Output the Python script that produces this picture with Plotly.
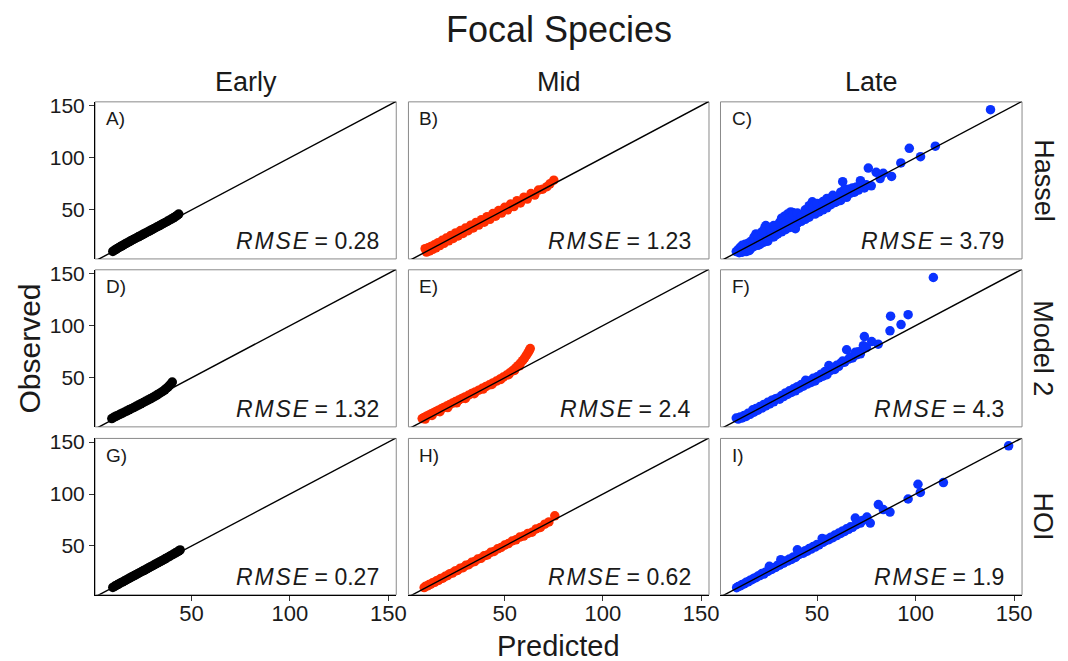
import plotly.graph_objects as go

# ---------------- data (predicted / observed) ----------------
columns = ["Early", "Mid", "Late"]
rows = ["Hassel", "Model 2", "HOI"]
panel_labels = ["A)", "B)", "C)", "D)", "E)", "F)", "G)", "H)", "I)"]
rmse_values = ["0.28", "1.23", "3.79", "1.32", "2.4", "4.3", "0.27", "0.62", "1.9"]
col_colors = ["#000000", "#FF2E00", "#0A32FF"]
tick_vals = [50, 100, 150]
identity_line = [0, 160]

a_pred = [10.0, 10.8, 11.5, 12.3, 13.0, 13.9, 14.6, 15.4, 16.2, 17.0, 17.9, 18.7, 19.5, 20.4, 21.2, 22.1, 23.0,
          23.8, 24.7, 25.6, 26.5, 27.4, 28.3, 29.2, 30.1, 31.0, 31.9, 32.9, 33.8, 34.8, 35.7, 36.7, 37.7, 38.7,
          39.7, 40.8, 41.8, 42.7, 43.5]
a_obs = [10.2, 11.3, 12.0, 13.0, 13.8, 14.8, 15.5, 16.4, 17.3, 18.1, 19.0, 19.9, 20.7, 21.6, 22.4, 23.3, 24.2,
         25.0, 25.9, 26.8, 27.7, 28.6, 29.5, 30.4, 31.3, 32.2, 33.1, 34.1, 35.0, 36.0, 37.0, 38.0, 39.0, 40.1,
         41.2, 42.4, 43.6, 44.8, 46.0]

b_pred = [9.5, 10.2, 11.0, 11.8, 12.5, 13.4, 14.2, 15.0, 16.1, 17.0, 18.2, 19.1, 20.3, 21.5, 22.6, 23.8, 25.0,
          26.3, 27.5, 28.8, 30.0, 31.4, 32.7, 34.0, 35.4, 36.8, 38.2, 39.6, 41.0, 42.5, 44.0, 45.4, 46.9, 48.4,
          50.0, 51.5, 53.0, 54.7, 56.3, 58.0, 59.8, 61.5, 63.4, 65.3, 67.2, 69.3, 71.5, 73.0, 75.0]
b_obs = [12.8, 9.6, 13.6, 10.6, 15.0, 12.2, 16.5, 13.6, 18.6, 15.8, 20.9, 17.9, 23.0, 20.4, 25.5, 22.6, 27.9,
         25.0, 30.2, 27.4, 32.6, 30.0, 35.3, 32.7, 38.0, 35.4, 40.6, 38.2, 43.5, 41.0, 46.5, 44.0, 49.4, 46.9,
         52.5, 50.0, 55.6, 53.2, 58.8, 56.6, 62.2, 60.3, 65.6, 64.2, 69.0, 69.8, 72.2, 75.0, 78.5]

c_pred = [9, 10, 10.5, 11, 11.5, 12, 12, 13, 13, 13.5, 14, 14.5, 15, 15, 15.5, 16, 16.5, 17, 17.5, 18, 18, 19, 19,
          19.5, 20, 20.5, 21, 21.5, 22, 22.5, 23, 23.5, 24, 24, 24.5, 25, 25.5, 26, 26.5, 27, 27.5, 28, 28.5, 29,
          30, 30.5, 31, 32, 33, 33.5, 34, 35, 35, 36, 36.6, 37, 37.6, 38, 39, 39.5, 40, 41, 42, 43, 44, 45, 46,
          47.6, 48, 49, 50, 51, 52, 53, 54, 55, 56, 57, 58, 59, 60, 61, 62, 63, 64, 65, 66, 67, 68, 69, 70, 71,
          72, 74, 75, 76, 77.5, 80, 82, 83.6, 87.8, 92.5, 96.8, 102.5, 110, 138,
          12, 14, 16, 18, 20, 21, 22, 25, 26, 28, 29, 31, 32, 34, 36, 38, 40, 42, 44, 46, 48, 50, 53, 55, 58,
          60, 62, 64]
c_obs = [10, 12, 9, 14, 11, 13, 9.5, 15, 11, 17, 12.5, 14, 18, 13, 11, 16, 20, 14, 17, 21, 15, 18, 27, 23, 16,
         20, 24, 18, 22, 26, 19, 33, 25, 35, 21, 28, 23, 30, 25, 27, 32, 24, 29, 33, 27, 31, 34, 29, 36, 44, 31,
         38, 46, 33, 48, 40, 47.6, 34, 32, 42, 37, 43, 39, 45, 41, 47, 43, 57.7, 49, 46, 52, 48, 54, 50, 56, 52,
         60, 55, 60, 57, 62, 63.5, 59, 77, 66, 62, 69.7, 66, 71, 67, 72, 69, 78, 71, 74, 90, 73, 86, 80, 85, 82,
         95, 109, 101, 111, 146,
         16, 10, 12, 24, 25, 17, 29, 20, 33, 35, 26, 38, 42, 36, 42, 45, 47, 44, 50, 54, 53, 56, 58, 61, 64,
         58, 67, 70]

d_pred = [9.5, 10.5, 11.5, 12.5, 13.6, 14.7, 15.8, 17.0, 18.2, 19.4, 20.6, 21.8, 23.0, 24.2, 25.4, 26.6, 27.8,
          29.0, 30.2, 31.3, 32.4, 33.5, 34.5, 35.5, 36.4, 37.2, 38.0, 38.7, 39.3, 39.8, 40.2]
d_obs = [11.0, 12.1, 13.1, 14.0, 15.0, 16.0, 17.0, 18.1, 19.3, 20.4, 21.5, 22.7, 23.9, 25.1, 26.3, 27.5, 28.7,
         29.9, 31.1, 32.3, 33.5, 34.8, 36.0, 37.2, 38.5, 39.8, 41.1, 42.4, 43.6, 44.8, 46.0]

e_pred = [8.0, 9.0, 10.2, 11.3, 12.5, 13.8, 15.0, 16.3, 17.7, 19.0, 20.5, 22.0, 23.5, 25.0, 26.6, 28.2, 29.8,
          31.5, 33.2, 35.0, 36.8, 38.6, 40.4, 42.2, 44.0, 45.8, 47.6, 49.3, 51.0, 52.6, 54.1, 55.5, 56.8, 58.0,
          59.1, 60.1, 61.0, 61.8, 62.5, 63.0,
          9.5, 13.0, 17.0, 21.0, 25.5, 30.0, 34.5, 39.0, 43.5, 48.0, 52.0, 55.0, 57.5]
e_obs = [11.0, 12.0, 13.2, 14.2, 15.4, 16.6, 17.8, 19.0, 20.3, 21.6, 23.0, 24.4, 25.8, 27.2, 28.7, 30.2, 31.7,
         33.3, 34.9, 36.5, 38.2, 39.9, 41.6, 43.3, 45.1, 46.9, 48.8, 50.7, 52.7, 54.8, 57.0, 59.3, 61.6, 64.0,
         66.4, 68.9, 71.4, 73.8, 76.1, 78.0,
         10.5, 14.0, 17.5, 21.5, 26.0, 30.2, 34.8, 39.2, 43.6, 48.5, 53.0, 57.0, 61.5]

f_pred = [9, 10, 11, 12, 13, 14, 15, 16, 17.4, 18, 19, 20, 21, 22, 23, 24, 25, 26, 27, 28, 29, 30, 31, 32, 33,
          34, 35, 36, 37, 38, 39, 40, 41, 42, 43, 44.2, 45, 46, 47, 48, 49, 50, 51, 52, 53, 54, 55, 56, 57, 58,
          59, 60, 61, 62, 63, 64, 65, 66, 67, 68, 69.4, 70, 71, 72, 73.5, 74, 75, 77.7, 81, 87, 87.3, 92.6, 96.2,
          109]
f_obs = [11.5, 10.5, 12.5, 11.5, 14, 13, 16, 15, 19.3, 17, 20.5, 19, 22.5, 21, 24.5, 23, 26.5, 25, 28.5, 27,
         30, 30.4, 29.5, 33, 32, 35.5, 34, 37.5, 36, 39.5, 37.5, 41.5, 40, 43.5, 42, 47.6, 44, 47, 45.5, 49.5,
         47, 51, 50, 53.5, 51.5, 56, 53, 61.8, 57, 59.5, 58, 62, 61, 64, 66, 65, 76.9, 68, 70, 69, 74.4, 72, 75,
         73, 80.8, 89.5, 79, 84.7, 82.2, 95, 109, 101, 110.5, 146.1]

g_pred = [10.0, 10.9, 11.7, 12.5, 13.3, 14.1, 15.0, 15.8, 16.6, 17.5, 18.3, 19.2, 20.1, 20.9, 21.8, 22.7, 23.6,
          24.5, 25.4, 26.3, 27.2, 28.1, 29.0, 30.0, 30.9, 31.8, 32.8, 33.7, 34.7, 35.6, 36.6, 37.6, 38.6, 39.6,
          40.6, 41.7, 42.7, 43.6, 44.2]
g_obs = [10.1, 11.2, 12.0, 12.9, 13.7, 14.6, 15.4, 16.3, 17.1, 18.0, 18.9, 19.8, 20.7, 21.5, 22.4, 23.3, 24.3,
         25.2, 26.1, 27.0, 27.9, 28.9, 29.8, 30.8, 31.7, 32.7, 33.7, 34.6, 35.6, 36.6, 37.6, 38.7, 39.8, 40.9,
         42.0, 43.2, 44.3, 45.3, 46.2]

h_pred = [9.0, 9.8, 10.7, 11.5, 12.4, 13.3, 14.3, 15.3, 16.3, 17.4, 18.5, 19.7, 20.9, 22.1, 23.4, 24.7, 26.0,
          27.4, 28.8, 30.2, 31.7, 33.2, 34.7, 36.3, 37.9, 39.5, 41.2, 42.9, 44.6, 46.4, 48.2, 50.0, 51.9, 53.8,
          55.7, 57.7, 59.7, 61.8, 63.9, 66.0, 68.2, 70.4, 72.5, 75.5]
h_obs = [10.0, 11.3, 11.6, 12.9, 13.2, 14.6, 15.0, 16.5, 16.9, 18.6, 19.0, 20.8, 21.5, 23.3, 23.9, 25.8, 26.5,
         28.6, 29.1, 31.4, 32.0, 34.3, 35.0, 37.4, 38.1, 40.5, 41.4, 43.9, 44.7, 47.3, 48.6, 50.9, 52.3, 54.8,
         55.9, 58.6, 59.5, 62.1, 63.2, 66.4, 67.9, 71.0, 73.1, 79.0]

i_pred = [9.2, 10, 11, 12, 13, 14, 15, 16, 17, 18, 19, 20, 21, 22, 23, 24, 25, 25.8, 26, 27, 28, 29, 30, 31,
          31.6, 32, 33, 34, 35, 36, 37, 38, 39, 40, 40, 41, 42, 43, 44, 45, 46, 47, 48, 49, 50, 51, 52.6, 53, 54,
          55, 56, 57, 58, 59, 60, 61, 62, 63, 64, 65, 66, 67, 68, 69.4, 70, 71, 72, 73, 75.3, 77, 81.1, 83.6, 87,
          96.2, 101.2, 102.4, 114.1, 147.2]
i_obs = [9.9, 11, 11.5, 13, 13.5, 15, 15.5, 17, 17.5, 19, 19.5, 21, 21.5, 23.5, 23, 25, 25.5, 30.5, 27, 27.5,
         29, 29.5, 31.5, 31.5, 36.8, 33, 33.5, 35.5, 35.5, 37.5, 37, 39.5, 39, 46.3, 41, 42, 43.5, 43, 45.5, 45,
         47.5, 47, 49.5, 49, 51.5, 51, 57.3, 53.5, 55, 56.5, 56, 58.5, 58, 60.5, 60, 62.5, 62, 64.5, 64, 66.5,
         66, 68.5, 68, 76.9, 70.5, 73, 72, 74.5, 77.8, 72, 89.8, 85, 82.6, 95.2, 109.4, 101.5, 111, 146.4]

predicted = [a_pred, b_pred, c_pred, d_pred, e_pred, f_pred, g_pred, h_pred, i_pred]
observed = [a_obs, b_obs, c_obs, d_obs, e_obs, f_obs, g_obs, h_obs, i_obs]

# ---------------- layout geometry (pixels) ----------------
W, H = 1068, 661
col_px = [(96, 400), (412.3, 715.7), (727.3, 1031.7)]
row_px = [(95, 254), (265, 424), (435.7, 594)]
x_range = [1, 154]
y_range = [3, 153.5]
FONT = "Liberation Sans, Arial, sans-serif"
TXT = "#1a1a1a"
HS = "\u200a"  # hair space for the spaced italic RMSE

fig = go.Figure()
layout = dict(
    width=W, height=H, margin=dict(l=0, r=0, t=0, b=0),
    paper_bgcolor="white", plot_bgcolor="white", showlegend=False,
    font=dict(family=FONT, color=TXT),
)
shapes = []
annotations = []

for k in range(9):
    r, c = divmod(k, 3)
    xn = "x" if k == 0 else f"x{k+1}"
    yn = "y" if k == 0 else f"y{k+1}"
    xa = "xaxis" if k == 0 else f"xaxis{k+1}"
    ya = "yaxis" if k == 0 else f"yaxis{k+1}"
    x0, x1 = col_px[c]
    y0, y1 = row_px[r]
    bottom = r == 2
    left = c == 0
    layout[xa] = dict(
        domain=[x0 / W, x1 / W], range=x_range, anchor=yn,
        tickvals=tick_vals, showticklabels=bottom, ticks="outside" if bottom else "",
        ticklen=5, tickwidth=1, tickcolor="#333333", ticklabelstandoff=-6,
        showline=bottom, linecolor="black", linewidth=1.3,
        showgrid=False, zeroline=False,
        tickfont=dict(size=22, color=TXT, family=FONT),
    )
    layout[ya] = dict(
        domain=[1 - y1 / H, 1 - y0 / H], range=y_range, anchor=xn,
        tickvals=tick_vals, showticklabels=left, ticks="outside" if left else "",
        ticklen=5, tickwidth=1, tickcolor="#333333",
        showline=left, linecolor="black", linewidth=1.3,
        showgrid=False, zeroline=False,
        tickfont=dict(size=21, color=TXT, family=FONT),
    )
    shapes.append(dict(type="rect", xref=f"{xn} domain", yref=f"{yn} domain",
                       x0=0, x1=1, y0=0, y1=1, layer="below",
                       line=dict(color="#8a8a8a", width=1), fillcolor="rgba(0,0,0,0)"))
    fig.add_trace(go.Scatter(
        x=predicted[k], y=observed[k], mode="markers", xaxis=xn, yaxis=yn,
        marker=dict(size=9.5, color=col_colors[c], line=dict(width=0)),
        hoverinfo="skip"))
    fig.add_trace(go.Scatter(
        x=identity_line, y=identity_line, mode="lines", xaxis=xn, yaxis=yn,
        line=dict(color="black", width=1.4), hoverinfo="skip"))
    annotations.append(dict(
        text=panel_labels[k], xref=f"{xn} domain", yref=f"{yn} domain",
        x=0.03, y=0.893, xanchor="left", yanchor="middle", showarrow=False,
        font=dict(size=19, color=TXT)))
    rmse_word = HS.join("RMSE")
    annotations.append(dict(
        text=f"<i>{rmse_word}</i> = {rmse_values[k]}", xref=f"{xn} domain", yref=f"{yn} domain",
        x=0.948, y=0.113, xanchor="right", yanchor="middle", showarrow=False,
        font=dict(size=23, color=TXT)))

# strip labels
for c, name in enumerate(columns):
    x0, x1 = col_px[c]
    annotations.append(dict(text=name, xref="paper", yref="paper",
                            x=(x0 + x1) / 2 / W, y=1 - 75 / H, xanchor="center", yanchor="middle",
                            showarrow=False, font=dict(size=27, color=TXT)))
for r, name in enumerate(rows):
    y0, y1 = row_px[r]
    annotations.append(dict(text=name, xref="paper", yref="paper",
                            x=1053 / W, y=1 - (y0 + y1) / 2 / H, xanchor="center", yanchor="middle",
                            textangle=90, showarrow=False, font=dict(size=27, color=TXT)))

# titles
annotations.append(dict(text="Focal Species", xref="paper", yref="paper",
                        x=564 / W, y=1 - 22 / H, xanchor="center", yanchor="middle",
                        showarrow=False, font=dict(size=36, color=TXT)))
annotations.append(dict(text="Observed", xref="paper", yref="paper",
                        x=30 / W, y=1 - 345 / H, xanchor="center", yanchor="middle",
                        textangle=-90, showarrow=False, font=dict(size=30, color=TXT)))
annotations.append(dict(text="Predicted", xref="paper", yref="paper",
                        x=564 / W, y=1 - 646 / H, xanchor="center", yanchor="middle",
                        showarrow=False, font=dict(size=29, color=TXT)))

layout["shapes"] = shapes
layout["annotations"] = annotations
fig.update_layout(**layout)
fig.write_html("out.html")
